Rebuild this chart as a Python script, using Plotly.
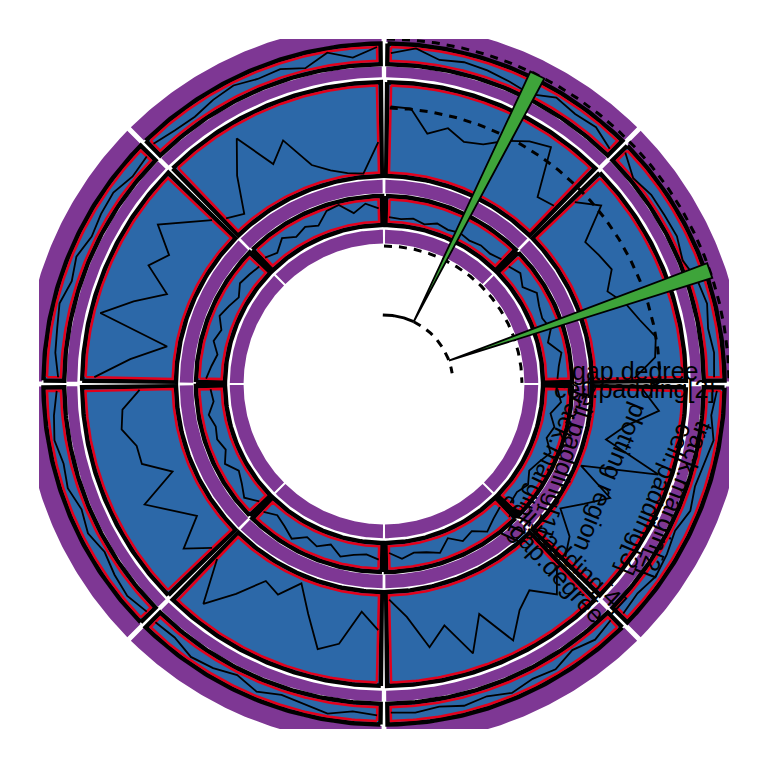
import numpy as np
import plotly.graph_objects as go

# ---------------- data ----------------
sectors = ["a", "b", "c", "d", "e", "f", "g", "h"]
# line values inside each cell (y in 0..1 of the plotting region), x evenly spaced
# sectors run clockwise starting at 0 degrees
outer_vals = [
    [0.7, 0.4, 0.8, 0.5, 0.3, 0.6, 0.2, 0.5, 0.7, 0.4, 0.6],
    [0.3, 0.6, 0.2, 0.7, 0.5, 0.8, 0.4, 0.6, 0.3, 0.5, 0.4],
    [0.6, 0.4, 0.8, 0.5, 0.3, 0.7, 0.2, 0.6, 0.8, 0.4, 0.5],
    [0.4, 0.7, 0.5, 0.2, 0.6, 0.3, 0.7, 0.5, 0.8, 0.6, 0.3],
    [0.2, 0.5, 0.6, 0.8, 0.4, 0.7, 0.3, 0.5, 0.6, 0.2, 0.4],
    [0.7, 0.4, 0.3, 0.6, 0.8, 0.5, 0.6, 0.16, 0.93, 0.34, 1.0],
    [0.56, 1.0, 0.4, 0.6, 0.5, 0.3, 0.1, 0.8, 0.55, 0.7, 0.2],
    [0.8, 0.0, 0.3, 0.3, 0.35, 0.0, 0.5, 0.7, 0.4, 0.6, 0.5],
]
middle_vals = [
    [0.55, 0.745, 0.39, 0.2, 0.89, 0.02, 0.48, 0.25, 0.05, 0.33, 0.45],
    [0.45, 0.7, 0.47, 0.6, 0.87, 0.43, 0.83, 0.43, 0.64, 0.26, 0.05],
    [0.4, 0.2, 0.6, 0.71, 0.35, 0.05, 0.28, 0.21, 0.52, 0.84, 0.35],
    [0.3, 0.55, 0.2, 0.4, 0.65, 0.2, 0.5, 0.5, 0.63, 0.59, 0.38],
    [0.9, 0.5, 0.1, 0.93, 0.6, 0.27, 0.6, 0.45, 0.75, 0.5, 0.3],
    [0.2, 0.1, 0.5, 0.86, 0.4, 0.6, 0.22, 0.1, 0.03, 0.0, 0.35],
    [0.76, 0.75, 0.49, 0.6, 0.5, 0.55, 0.7, 0.82, 0.9, 0.35, 0.4],
    [0.6, 0.8, 0.4, 0.45, 0.5, 0.35, 0.5, 0.6, 0.74, 0.7, 0.45],
]
inner_vals = [
    [0.5, 0.7, 0.3, 0.6, 0.4, 0.8, 0.5, 0.3, 0.6, 0.4, 0.5],
    [0.3, 0.5, 0.8, 0.4, 0.6, 0.2, 0.7, 0.5, 0.4, 0.6, 0.3],
    [0.6, 0.4, 0.5, 0.7, 0.3, 0.6, 0.4, 0.8, 0.5, 0.3, 0.6],
    [0.4, 0.8, 0.5, 0.3, 0.7, 0.4, 0.6, 0.5, 0.7, 0.4, 0.5],
    [0.7, 0.5, 0.3, 0.6, 0.4, 0.7, 0.5, 0.3, 0.6, 0.5, 0.4],
    [0.5, 0.3, 0.7, 0.4, 0.6, 0.4, 0.9, 1.0, 0.5, 0.85, 0.6],
    [0.2, 0.15, 0.25, 0.1, 0.3, 0.2, 0.3, 0.2, 0.3, 0.25, 0.4],
    [0.4, 0.6, 0.3, 0.7, 0.5, 0.4, 0.6, 0.3, 0.8, 0.6, 0.5],
]
track_values = [outer_vals, middle_vals, inner_vals]

labels = ["gap.degree", "cell.padding[2]", "cell.padding[1]", "track.margin[1]",
          "plotting region", "cell.padding[3]", "track.margin[2]",
          "gap.degree", "cell.padding[4]"]

# ---------------- layout constants ----------------
GAP = 1.2            # degrees between sector cells
GAP_M = 0.8          # degrees between margin bands
SECTOR = 360 / len(sectors)
PX = 345.0           # pixels per unit radius
# cells (inner radius, outer radius)
cells = [(0.927, 0.987), (0.603, 0.875), (0.461, 0.545)]
# track margin bands (purple)
margins = [(0.991, 1.045), (0.889, 0.920), (0.553, 0.592), (0.407, 0.447)]
PAD = 3.4 / PX       # plotting-region inset

BLUE = "#2C68A8"
PURPLE = "#7E3794"
RED = "#E3001B"
GREEN = "#3EA43A"


def arc(r, a0, a1, n=80):
    t = np.radians(np.linspace(a0, a1, n))
    return list(r * np.cos(t)), list(r * np.sin(t))


def annulus(r0, r1, a0, a1):
    xo, yo = arc(r1, a0, a1)
    xi, yi = arc(r0, a1, a0)
    return xo + xi + [xo[0]], yo + yi + [yo[0]]


def sector_span(i, gap):
    start = -SECTOR * i
    return start - gap / 2, start - SECTOR + gap / 2


fig = go.Figure()

# purple margins
px_, py_ = [], []
for (r0, r1) in margins:
    for i in range(len(sectors)):
        a0, a1 = sector_span(i, GAP_M)
        x, y = annulus(r0, r1, a0, a1)
        px_ += x + [None]
        py_ += y + [None]
fig.add_trace(go.Scatter(x=px_, y=py_, mode="lines", fill="toself", fillcolor=PURPLE,
                         line=dict(width=0, color=PURPLE), hoverinfo="skip"))

# cells
bx, by, rx, ry, lx, ly = [], [], [], [], [], []
for t, (r0, r1) in enumerate(cells):
    for i in range(len(sectors)):
        a0, a1 = sector_span(i, GAP)
        x, y = annulus(r0, r1, a0, a1)
        bx += x + [None]
        by += y + [None]
        rr0, rr1 = r0 + PAD, r1 - PAD
        da = np.degrees(PAD / ((r0 + r1) / 2))
        b0, b1 = a0 - da, a1 + da
        x, y = annulus(rr0, rr1, b0, b1)
        rx += x + [None]
        ry += y + [None]
        vals = np.array(track_values[t][i])
        xs = np.linspace(0, 1, len(vals))
        th = np.radians(b0 + (b1 - b0) * xs)
        rad = rr0 + (rr1 - rr0) * vals
        lx += list(rad * np.cos(th)) + [None]
        ly += list(rad * np.sin(th)) + [None]

fig.add_trace(go.Scatter(x=bx, y=by, mode="lines", fill="toself", fillcolor=BLUE,
                         line=dict(width=4.5, color="black"), hoverinfo="skip"))
fig.add_trace(go.Scatter(x=rx, y=ry, mode="lines",
                         line=dict(width=2.5, color=RED), hoverinfo="skip"))
fig.add_trace(go.Scatter(x=lx, y=ly, mode="lines",
                         line=dict(width=1.8, color="black"), hoverinfo="skip"))

# dashed arcs
for (r, a0, a1) in [(1.0, 89.5, 0.5), (0.80, 88.8, 1.0), (0.40, 90, 0.5), (0.2, 64.5, 9)]:
    x, y = arc(r, a0, a1, 200)
    fig.add_trace(go.Scatter(x=x, y=y, mode="lines",
                             line=dict(width=3, color="black", dash="8px,7px"),
                             hoverinfo="skip"))
x, y = arc(0.2, 91, 64.5, 40)
fig.add_trace(go.Scatter(x=x, y=y, mode="lines", line=dict(width=3, color="black"),
                         hoverinfo="skip"))

# green wedges
for (ac, ab) in [(64.5, 63.6), (19.8, 19.2)]:
    a = np.radians(ac)
    b0, b1 = np.radians(ab - 1.3), np.radians(ab + 1.3)
    xs = [0.2 * np.cos(a), 1.0 * np.cos(b0), 1.0 * np.cos(b1), 0.2 * np.cos(a)]
    ys = [0.2 * np.sin(a), 1.0 * np.sin(b0), 1.0 * np.sin(b1), 0.2 * np.sin(a)]
    fig.add_trace(go.Scatter(x=xs, y=ys, mode="lines", fill="toself", fillcolor=GREEN,
                             line=dict(width=1.8, color="black"), hoverinfo="skip"))

# texts: (label, radius, angle, textangle)
text_pos = [
    (labels[0], 0.729, 3.0, 0),
    (labels[1], 0.726, -1.1, 0),
    (labels[2], 0.575, -22.0, 108),
    (labels[3], 0.53, -27.0, 115),
    (labels[4], 0.713, -22.4, 112),
    (labels[5], 0.855, -23.0, 113),
    (labels[6], 0.912, -21.6, 111),
    (labels[7], 0.744, -47.4, 47),
    (labels[8], 0.71, -43.0, 43),
]
for (s, r, a, ta) in text_pos:
    fig.add_annotation(x=r * np.cos(np.radians(a)), y=r * np.sin(np.radians(a)),
                       text=s, textangle=ta, showarrow=False,
                       font=dict(family="Liberation Sans, Arial", size=25, color="black"))

# page body has an 8px margin: shift plot area so the circle centre sits at (384, 384)
fig.update_layout(
    width=768, height=768, showlegend=False,
    margin=dict(l=31, r=47, t=31, b=47),
    plot_bgcolor="white", paper_bgcolor="white",
    xaxis=dict(range=[-1, 1], visible=False, fixedrange=True),
    yaxis=dict(range=[-1, 1], visible=False, fixedrange=True),
)
fig.write_html("out.html")
